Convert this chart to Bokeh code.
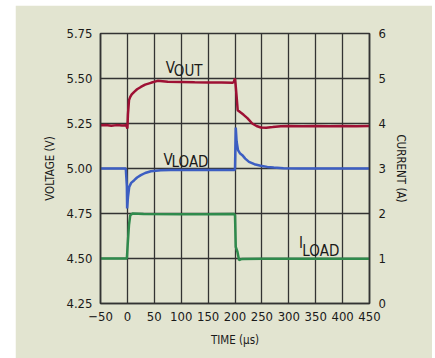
from bokeh.plotting import figure
from bokeh.layouts import row, column
from bokeh.models import Range1d, LinearAxis, FixedTicker, ColumnDataSource, CustomJSTickFormatter, Spacer
from bokeh.core.properties import value
from bokeh.embed import file_html
from bokeh.resources import INLINE

# ---- axis ticks / labels ----
time_ticks = [-50, 0, 50, 100, 150, 200, 250, 300, 350, 400, 450]
time_tick_labels = ["\u221250", "0", "50", "100", "150", "200", "250", "300", "350", "400", "450"]
voltage_ticks = [4.25, 4.50, 4.75, 5.00, 5.25, 5.50, 5.75]
voltage_tick_labels = ["4.25", "4.50", "4.75", "5.00", "5.25", "5.50", "5.75"]
current_ticks = [0, 1, 2, 3, 4, 5, 6]
current_tick_labels = ["0", "1", "2", "3", "4", "5", "6"]

# ---- traces (time in us) ----
vout_t = [-50, -40, -30, -20, -10, -2, 0, 1, 3, 5.3, 8, 12.7, 18, 25, 33, 43.7, 56, 75, 100, 125, 150, 175, 196,
          198, 200, 201, 203, 205, 210, 216, 223, 232, 240, 248, 258, 270, 285, 300, 325, 350, 375, 400, 425, 450]
vout_v = [5.240, 5.242, 5.238, 5.241, 5.239, 5.240, 5.222, 5.300, 5.380, 5.398, 5.412, 5.426, 5.440, 5.453, 5.466,
          5.476, 5.487, 5.482, 5.481, 5.479, 5.478, 5.478, 5.477,
          5.482, 5.500, 5.470, 5.400, 5.324, 5.312, 5.298, 5.280, 5.250, 5.236, 5.228, 5.227, 5.230, 5.235, 5.236,
          5.235, 5.236, 5.235, 5.236, 5.235, 5.236]

vload_t = [-50, -3, -1, -0.5, 1, 3.4, 7, 12.7, 18, 25, 33, 43.7, 62, 80, 100, 150, 199,
           200, 201.4, 203, 205.6, 209, 213.6, 219, 226, 236, 247.7, 260, 272, 290, 320, 450]
vload_v = [5.000, 5.000, 4.900, 4.778, 4.840, 4.898, 4.920, 4.935, 4.950, 4.963, 4.975, 4.985, 4.990, 4.991,
           4.991, 4.991, 4.991,
           5.000, 5.228, 5.150, 5.102, 5.085, 5.074, 5.055, 5.037, 5.024, 5.015, 5.009, 5.006, 5.002, 5.000, 5.000]

iload_t = [-50, -1, 0.5, 3, 5.3, 9.7, 30, 100, 150, 198, 200, 201.4, 204.5, 207.6, 210, 213.6, 250, 300, 450]
iload_a = [1.00, 1.00, 1.30, 1.75, 1.96, 2.00, 1.99, 1.985, 1.985, 1.99, 1.96, 1.26, 1.15, 0.96, 0.98, 0.99,
           0.995, 0.995, 0.995]

# ---- trace labels (main letter + subscript) ----
label_main = ["V", "V", "I"]
label_sub = ["OUT", "LOAD", "LOAD"]
label_t = [71.5, 67.2, 318.8]
label_v = [5.558, 5.0496, 4.5844]
label_sub_dx = [8, 8, 3.4]
label_sub_dy = [2.7, 2.4, 7.7]

BG = "#e2e4d0"
INK = "#1a1a1a"
GRID = "#333333"
NARROW = "DejaVu Sans Condensed, Liberation Sans"

p = figure(width=417, height=353,
           x_range=Range1d(-50, 450), y_range=Range1d(4.25, 5.75),
           output_backend="svg", toolbar_location=None,
           min_border_left=85, min_border_right=63, min_border_top=28, min_border_bottom=55,
           background_fill_color=BG, border_fill_color=BG,
           outline_line_color=GRID, outline_line_width=1.5)
p.extra_y_ranges = {"cur": Range1d(0, 6)}

fmt_js = "const i = tvals.findIndex(t => Math.abs(t - tick) < 1e-9); return i >= 0 ? tlabels[i] : '';"
p.xaxis.ticker = FixedTicker(ticks=time_ticks)
p.xaxis.formatter = CustomJSTickFormatter(args=dict(tvals=time_ticks, tlabels=time_tick_labels), code=fmt_js)
p.yaxis.ticker = FixedTicker(ticks=voltage_ticks)
p.yaxis.formatter = CustomJSTickFormatter(args=dict(tvals=voltage_ticks, tlabels=voltage_tick_labels), code=fmt_js)

ax_r = LinearAxis(y_range_name="cur", ticker=FixedTicker(ticks=current_ticks),
                  formatter=CustomJSTickFormatter(args=dict(tvals=current_ticks, tlabels=current_tick_labels),
                                                  code=fmt_js))
p.add_layout(ax_r, "right")

p.xaxis.axis_label = "TIME (\u00b5s)"
p.yaxis.axis_label = "VOLTAGE (V)"
ax_r.axis_label = "CURRENT (A)"

for ax in [p.xaxis[0], p.yaxis[0], ax_r]:
    ax.major_tick_line_color = None
    ax.minor_tick_line_color = None
    ax.major_tick_out = 0
    ax.major_tick_in = 0
    ax.axis_line_color = GRID
    ax.axis_line_width = 1.5
    ax.major_label_text_font = NARROW
    ax.major_label_text_font_size = "13px"
    ax.major_label_text_color = INK
    ax.axis_label_text_font = NARROW
    ax.axis_label_text_font_style = "normal"
    ax.axis_label_text_font_size = "11.5px"
    ax.axis_label_text_color = INK

p.yaxis.major_label_standoff = 8
p.yaxis.axis_label_standoff = 6
ax_r.major_label_standoff = 9
ax_r.axis_label_standoff = 5
p.xaxis.major_label_standoff = 8
p.xaxis.axis_label_standoff = 9

p.grid.grid_line_color = GRID
p.grid.grid_line_width = 1.3

p.line(vout_t, vout_v, line_color="#9e1034", line_width=2.5)
p.line(vload_t, vload_v, line_color="#3c5ec2", line_width=2.5)
p.line(iload_t, iload_a, line_color="#2f8a4c", line_width=2.5, y_range_name="cur")

lbl = ColumnDataSource(dict(x=label_t, y=label_v, main=label_main, sub=label_sub,
                            dx=label_sub_dx, dy=label_sub_dy))
p.text(x="x", y="y", text="main", source=lbl, text_font=value(NARROW),
       text_font_size="15px", text_baseline="alphabetic", text_align="left", text_color=INK)
p.text(x="x", y="y", text="sub", source=lbl, x_offset="dx", y_offset="dy",
       text_font=value(NARROW), text_font_size="15px",
       text_baseline="alphabetic", text_align="left", text_color=INK)

layout = column(Spacer(width=432, height=5),
                row(Spacer(width=15, height=353), p, spacing=0),
                spacing=0)
open("out.html", "w").write(file_html(layout, INLINE))
